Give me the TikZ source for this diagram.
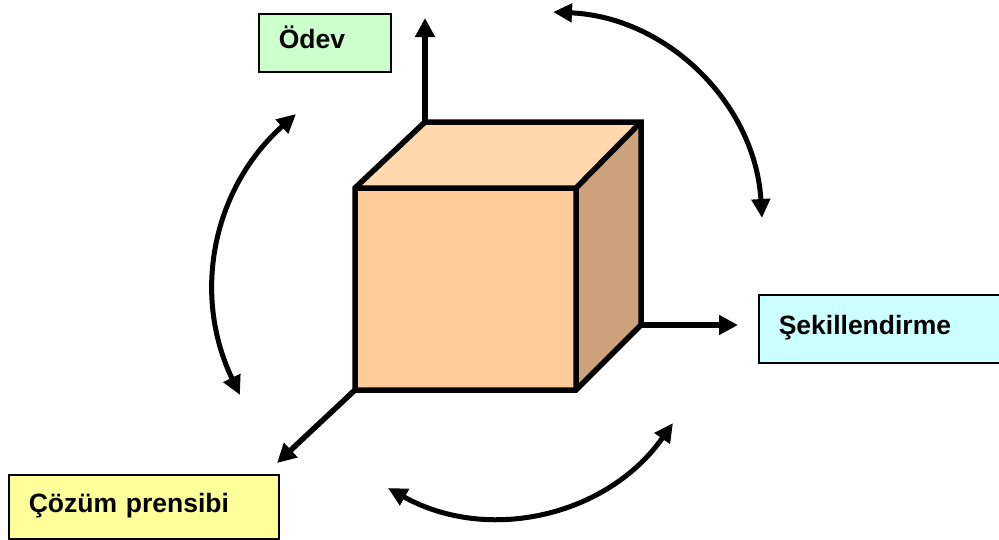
\documentclass[tikz,border=0pt]{standalone}
\usepackage{fontspec}
\setmainfont{Liberation Sans}
\usetikzlibrary{arrows.meta}
\definecolor{cubefront}{RGB}{255,204,153}
\definecolor{cubetop}{RGB}{255,216,174}
\definecolor{cubeside}{RGB}{204,162,122}
\definecolor{boxgreen}{RGB}{204,255,204}
\definecolor{boxcyan}{RGB}{204,255,255}
\definecolor{boxyellow}{RGB}{255,255,153}
\tikzset{
  axis-arrow/.style={
    line width=5.5pt,
    -{Triangle[length=19pt,width=19pt]}
  },
  turn-arrow/.style={
    line width=5pt,
    {Triangle[length=19pt,width=18pt]}-{Triangle[length=19pt,width=18pt]}
  },
  cube-face/.style={draw=black, line width=5.5pt},
  label-box/.style={
    draw=black, line width=1.5pt, anchor=north west,
    inner xsep=20pt, align=left,
    text height=19pt, text depth=8pt,
    font=\bfseries\fontsize{26.5}{30}\selectfont
  }
}

\begin{document}
\begin{tikzpicture}[x=1pt,y=-1pt]
  \useasboundingbox (0,0) rectangle (999,539);
  % Cube corners
  \coordinate (fa) at (355,188);
  \coordinate (fb) at (576,188);
  \coordinate (fc) at (576,390);
  \coordinate (fd) at (355,390);
  \coordinate (ba) at (425,122);
  \coordinate (bb) at (641,122);
  \coordinate (bc) at (641,325);
  % Cube faces
  \fill[cubetop] (fa) -- (ba) -- (bb) -- (fb) -- cycle;
  \fill[cubeside] (fb) -- (bb) -- (bc) -- (fc) -- cycle;
  \fill[cubefront] (fa) rectangle (fc);
  \draw[cube-face] (fa) -- (ba) -- (bb) -- (bc) -- (fc) -- (fd) -- cycle;
  \draw[cube-face] (fa) -- (fb) -- (fc) (fb) -- (bb);
  % Axes
  \coordinate (up-end) at (425,18);
  \coordinate (right-end) at (738,325);
  \coordinate (down-end) at (277,463);
  \draw[axis-arrow] (ba) -- (up-end);
  \draw[axis-arrow] (bc) -- (right-end);
  \draw[axis-arrow] (fd) -- (down-end);
  % Turning arrows
  \coordinate (ne-a) at (553,12);
  \coordinate (ne-b) at (762,218);
  \coordinate (w-a) at (296,114);
  \coordinate (w-b) at (240,395);
  \coordinate (s-a) at (388,488);
  \coordinate (s-b) at (673,423);
  \draw[turn-arrow] (ne-a) to[bend left=42] (ne-b);
  \draw[turn-arrow] (w-a) to[bend right=37] (w-b);
  \draw[turn-arrow] (s-a) to[bend right=42] (s-b);
  % Labels
  \node[label-box, fill=boxgreen, text width=92pt, minimum height=58pt] (odev) at (258,13) {Ödev};
  \node[label-box, fill=boxcyan, text width=220pt, minimum height=68pt] (sekil) at (758,294) {Şekillendirme};
  \node[label-box, fill=boxyellow, text width=230pt, minimum height=64pt] (cozum) at (8,474) {Çözüm prensibi};
\end{tikzpicture}
\end{document}
